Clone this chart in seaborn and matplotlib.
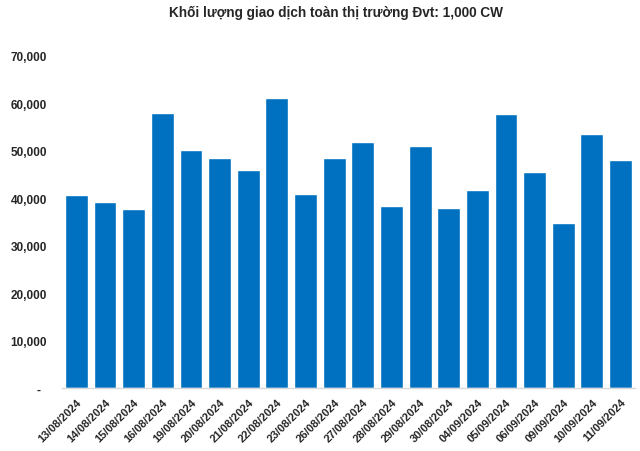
import matplotlib
matplotlib.use("Agg")
import matplotlib.pyplot as plt
import seaborn as sns
import pandas as pd
from matplotlib.ticker import FuncFormatter

dates = ["13/08/2024", "14/08/2024", "15/08/2024", "16/08/2024", "19/08/2024",
         "20/08/2024", "21/08/2024", "22/08/2024", "23/08/2024", "26/08/2024",
         "27/08/2024", "28/08/2024", "29/08/2024", "30/08/2024", "04/09/2024",
         "05/09/2024", "06/09/2024", "09/09/2024", "10/09/2024", "11/09/2024"]
volumes = [40630, 39160, 37680, 57890, 50100, 48420, 45890, 61050, 40840, 48420,
           51790, 38310, 50950, 37890, 41680, 57680, 45470, 34740, 53470, 48000]
title = "Khối lượng giao dịch toàn thị trường Đvt: 1,000 CW"

sns.set_theme(style="white")
plt.rcParams['font.family'] = ['Liberation Sans', 'DejaVu Sans']

df = pd.DataFrame({"date": dates, "volume": volumes})

fig = plt.figure(figsize=(6.4, 4.52), dpi=100)
ax = fig.add_axes([0.097, 0.139, 0.895, 0.735])
sns.barplot(data=df, x="date", y="volume", color="#0070C0", saturation=1,
            width=0.8, ax=ax)
ax.set_ylim(0, 70000)
ax.set_xlim(-0.5, len(dates) - 0.5)
ax.set_yticks(range(0, 70001, 10000))
ax.yaxis.set_major_formatter(FuncFormatter(lambda v, p: "-  " if v == 0 else f"{int(v):,}"))
ax.set_xlabel("")
ax.set_ylabel("")
for s in ["top", "right", "left"]:
    ax.spines[s].set_visible(False)
ax.spines["bottom"].set_color("#D9D9D9")
ax.spines["bottom"].set_linewidth(1)
ax.tick_params(axis="both", length=0)
ax.tick_params(axis="y", pad=10.8)
for lab in ax.get_yticklabels():
    lab.set_fontweight("bold")
    lab.set_fontsize(8.5)
plt.setp(ax.get_xticklabels(), rotation=45, ha="right", rotation_mode="anchor",
         fontweight="bold", fontsize=8)
ax.tick_params(axis="x", pad=6)
fig.text(0.525, 0.971, title, ha="center", va="center", fontweight="bold",
         fontsize=9.8)
fig.savefig("out.png", dpi=100)
